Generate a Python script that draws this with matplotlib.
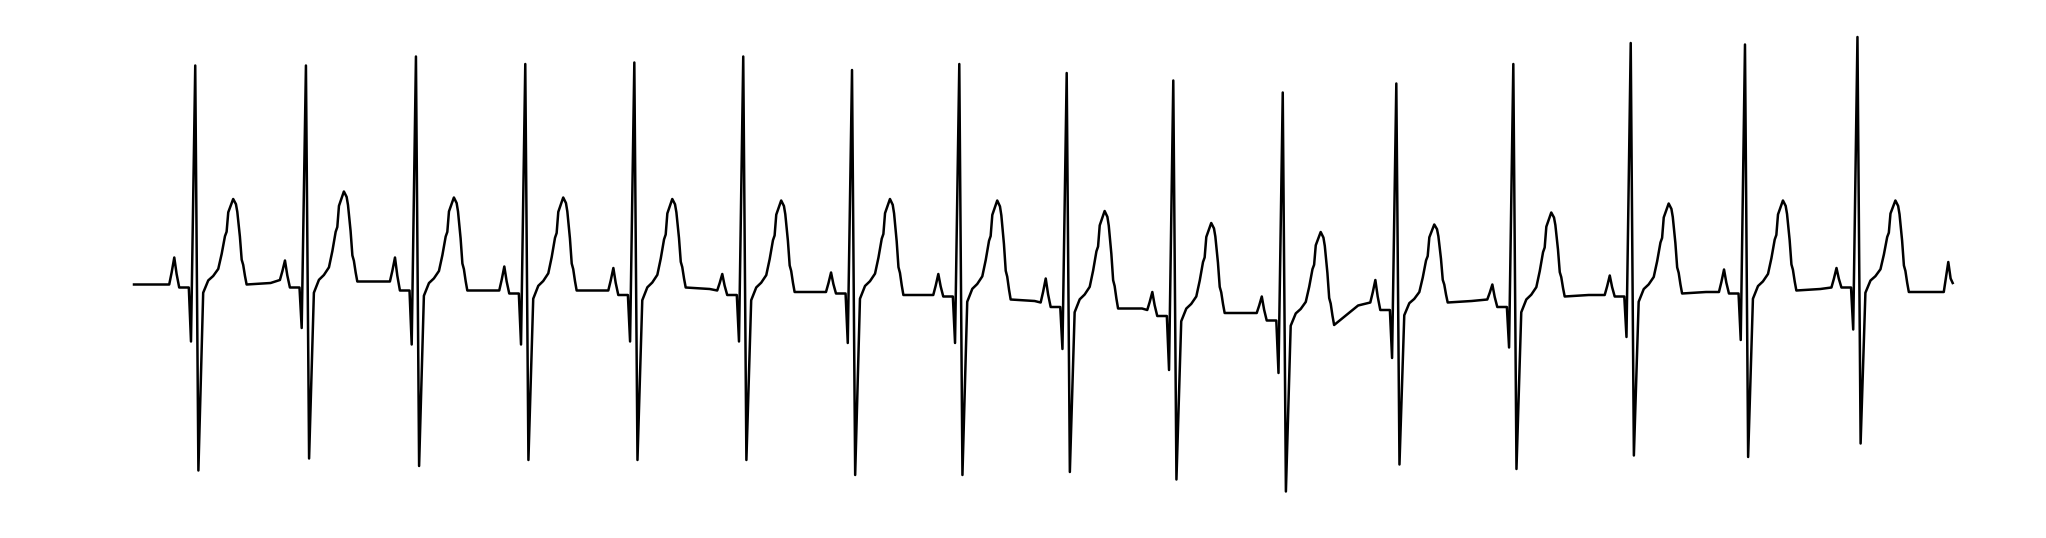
import numpy as np
import matplotlib.pyplot as plt

# R-peak times (s) and per-beat levels (mV)
r_time = [0.447, 1.255, 2.058, 2.856, 3.652, 4.447, 5.241, 6.024,
          6.808, 7.586, 8.385, 9.214, 10.068, 10.925, 11.759, 12.580]
base_pre = [-0.01, 0.02, 0.01, -0.05, -0.05, -0.05, -0.06, -0.08,
            -0.13, -0.18, -0.20, -0.13, -0.11, -0.08, -0.06, -0.03]
p_amp = [0.17, 0.15, 0.17, 0.11, 0.10, 0.06, 0.07, 0.06,
         0.03, -0.06, -0.09, 0.02, -0.01, 0.05, 0.09, 0.10]
base_pr = [-0.03, -0.03, -0.05, -0.07, -0.08, -0.08, -0.07, -0.09,
           -0.16, -0.22, -0.25, -0.18, -0.16, -0.09, -0.07, -0.03]
q_amp = [-0.39, -0.30, -0.41, -0.41, -0.39, -0.39, -0.40, -0.40,
         -0.44, -0.58, -0.60, -0.50, -0.43, -0.36, -0.38, -0.31]
r_amp = [1.45, 1.45, 1.51, 1.46, 1.47, 1.51, 1.42, 1.46,
         1.40, 1.35, 1.27, 1.33, 1.46, 1.60, 1.59, 1.64]
s_amp = [-1.25, -1.17, -1.22, -1.18, -1.18, -1.18, -1.28, -1.28,
         -1.26, -1.31, -1.39, -1.21, -1.24, -1.15, -1.16, -1.07]
t_amp = [0.56, 0.61, 0.57, 0.57, 0.56, 0.55, 0.56, 0.55,
         0.48, 0.40, 0.34, 0.39, 0.47, 0.53, 0.55, 0.55]
base_post = [-0.01, 0.01, -0.05, -0.05, -0.03, -0.06, -0.08, -0.11,
             -0.17, -0.20, -0.28, -0.13, -0.09, -0.07, -0.05, -0.06]
# baseline level about 0.55 s after each R peak
base_mid = [0.00, 0.01, -0.05, -0.05, -0.04, -0.06, -0.08, -0.12,
            -0.17, -0.20, -0.15, -0.12, -0.08, -0.06, -0.04, -0.06]

start_level = -0.01
tail_time = [13.210, 13.243, 13.260, 13.275]
tail_amp = [-0.06, 0.14, 0.03, 0.00]

# wave shape read from the first beat (offsets from R in s, fraction of T height)
t_up_off = [0.095, 0.131, 0.168, 0.193, 0.217, 0.229, 0.241, 0.253]
t_up_frac = [0.08, 0.13, 0.21, 0.38, 0.58, 0.63, 0.85, 0.90]
t_dn_off = [0.297, 0.307, 0.326, 0.339, 0.350, 0.363, 0.375]
t_dn_frac = [0.94, 0.85, 0.56, 0.29, 0.23, 0.10, 0.0]

tt = [0.0]
yy = [start_level]
for i, r in enumerate(r_time):
    b0, p, b1 = base_pre[i], p_amp[i], base_pr[i]
    # P wave
    tt += [r - 0.190, r - 0.172, r - 0.153, r - 0.136, r - 0.117]
    yy += [b0, b0 + 0.45 * (p - b0), p, b1 + 0.45 * (p - b1), b1]
    # QRS
    tt += [r - 0.047, r - 0.031, r, r + 0.023, r + 0.058]
    yy += [b1, q_amp[i], r_amp[i], s_amp[i], b1 - 0.035]
    # ST / T wave
    for o, f in zip(t_up_off, t_up_frac):
        tt.append(r + o)
        yy.append(b1 + f * (t_amp[i] - b1))
    tt.append(r + 0.277)
    yy.append(t_amp[i])
    b2 = base_post[i]
    for o, f in zip(t_dn_off, t_dn_frac):
        tt.append(r + o)
        yy.append(b2 + f * (t_amp[i] - b2))
    tt.append(r + 0.55)
    yy.append(base_mid[i])
tt += tail_time
yy += tail_amp

fig = plt.figure(figsize=(20.46, 5.38), dpi=100)
ax = fig.add_axes([0, 0, 1, 1])
ax.plot(tt, yy, color='black', linewidth=1.8)
ax.set_xlim(-134 / 137, (2046 - 134) / 137)
ax.set_ylim((283 - 538) / 150, 283 / 150)
ax.axis('off')
fig.savefig('out.png', dpi=100)
